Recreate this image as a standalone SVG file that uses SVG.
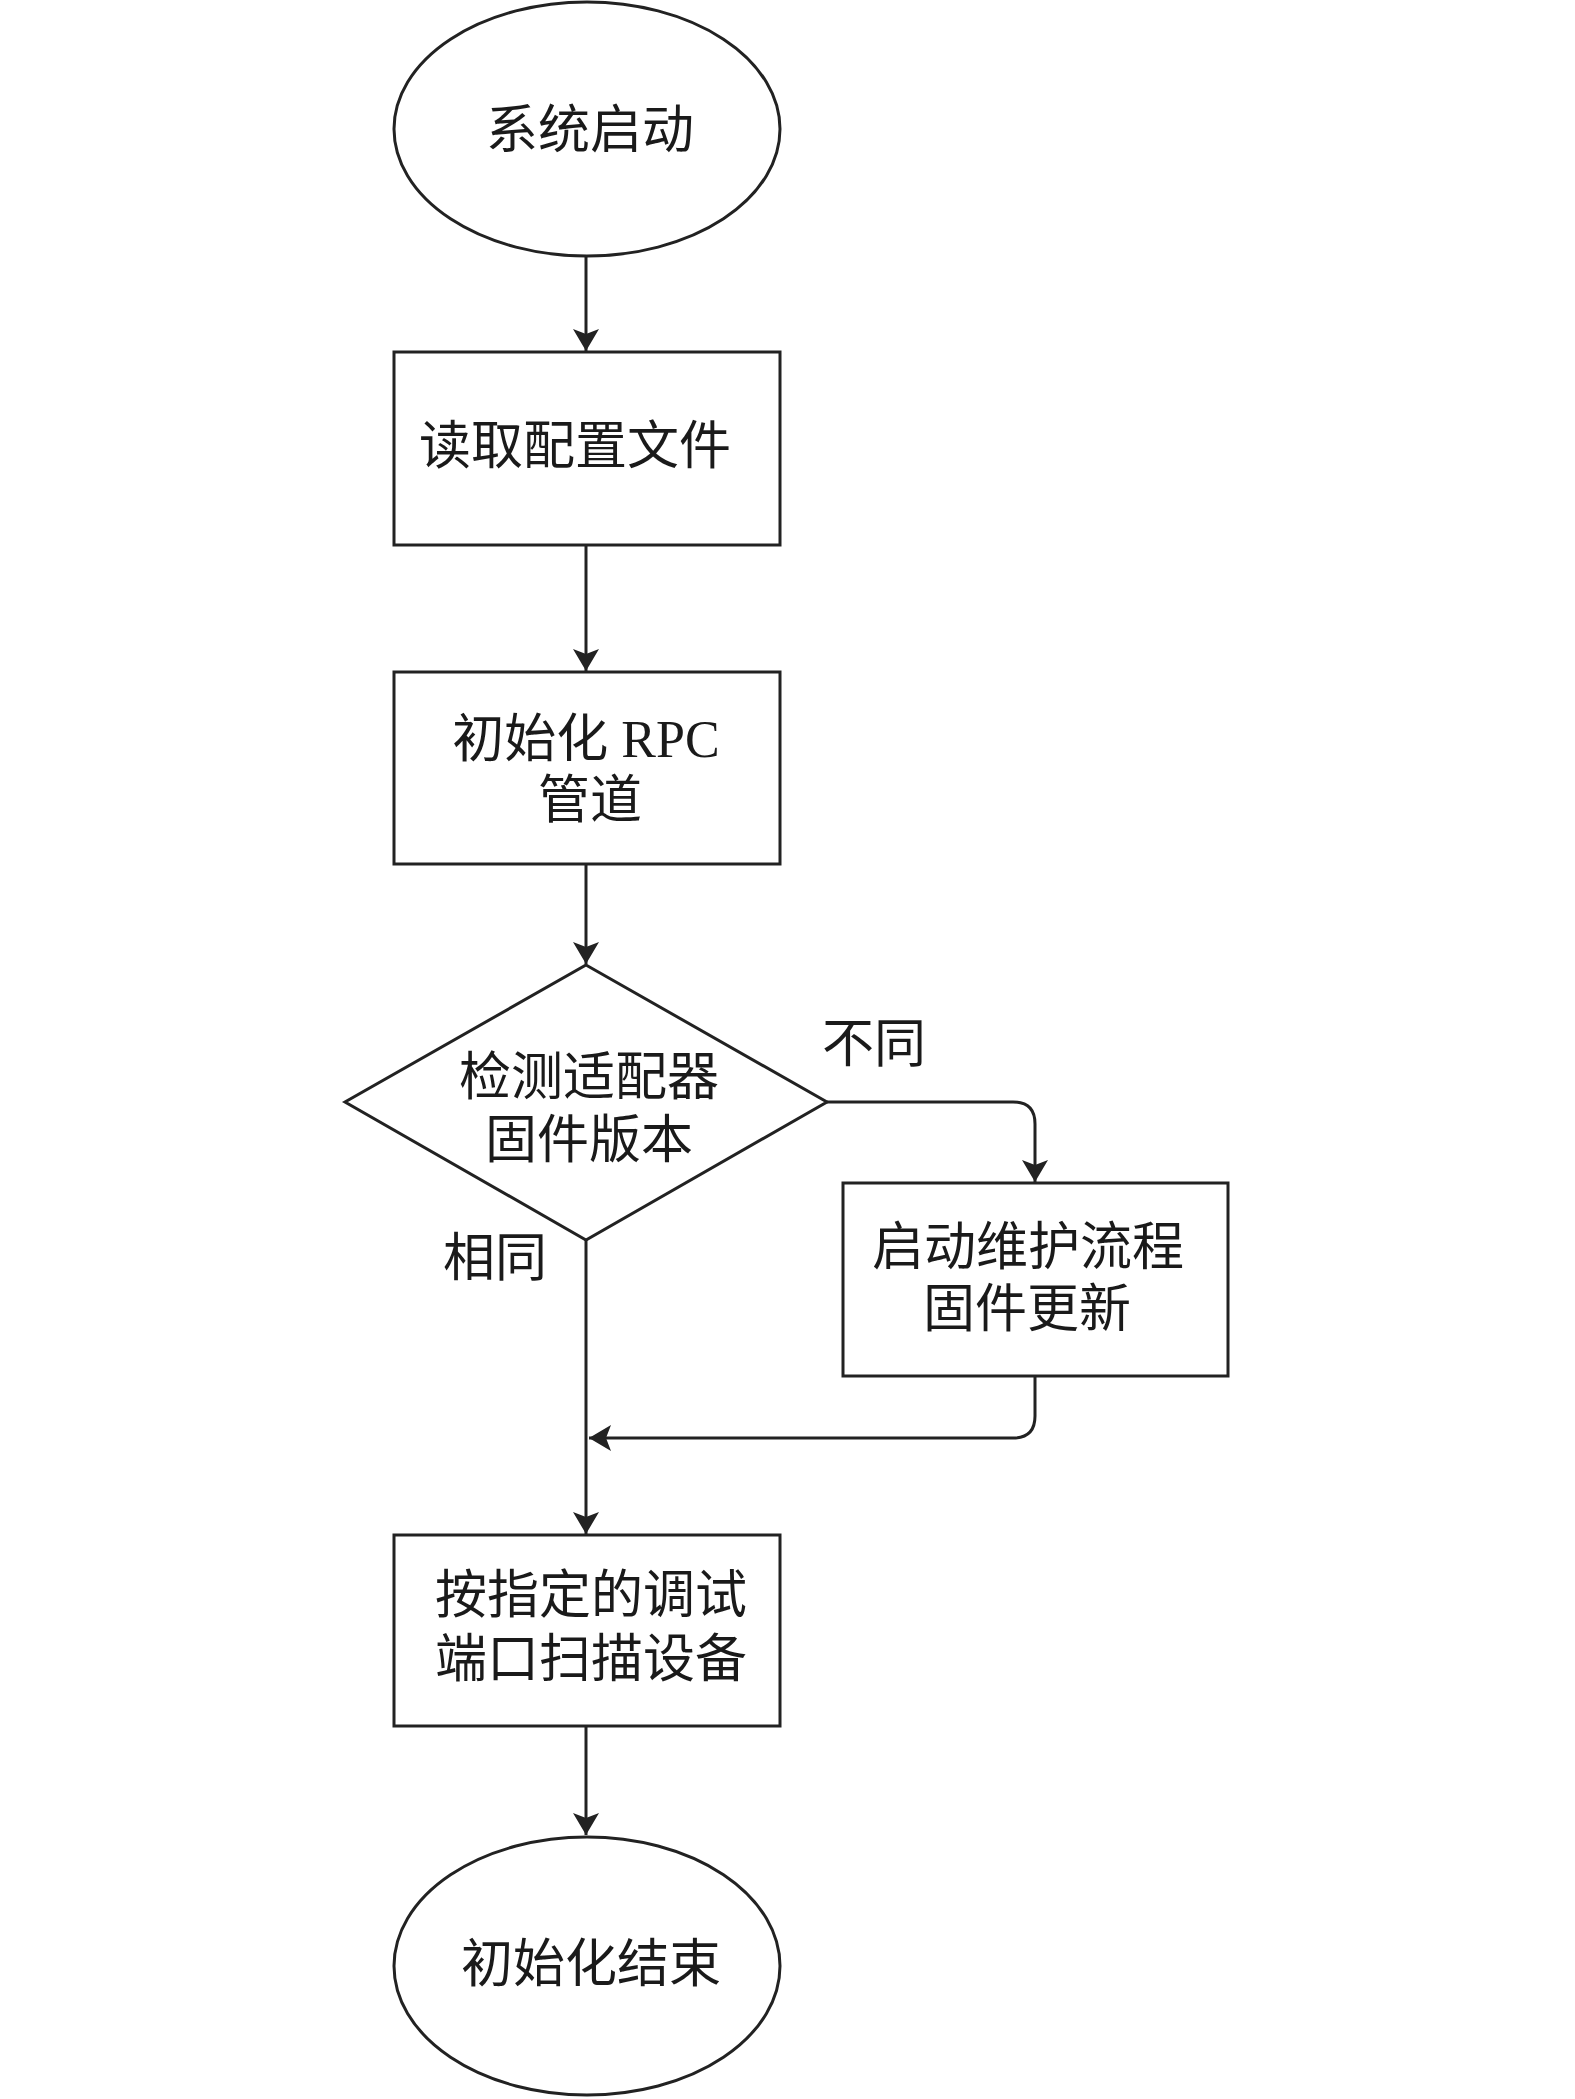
<svg xmlns="http://www.w3.org/2000/svg" width="1575" height="2099" viewBox="0 0 1575 2099">
<style>
.n{fill:#fff;stroke:#222;stroke-width:3}
.c{fill:none;stroke:#222;stroke-width:3}
.t{font-family:"Liberation Serif","Noto Sans CJK SC",serif;font-size:52px;fill:#1a1a1a;text-anchor:middle;dominant-baseline:central}
</style>
<defs>
<marker id="ah" viewBox="0 0 22 26" refX="22" refY="13" markerWidth="22" markerHeight="26" markerUnits="userSpaceOnUse" orient="auto">
<path d="M0,0 L22,13 L0,26 L5,13 Z" fill="#222"/>
</marker>
</defs>
<rect width="1575" height="2099" fill="#fff"/>
<g id="connectors">
<line class="c" x1="586" y1="257" x2="586" y2="351" marker-end="url(#ah)"/>
<line class="c" x1="586" y1="545" x2="586" y2="671" marker-end="url(#ah)"/>
<line class="c" x1="586" y1="864" x2="586" y2="964" marker-end="url(#ah)"/>
<path class="c" d="M827,1102 H1013 Q1035,1102 1035,1124 V1182" marker-end="url(#ah)"/>
<path class="c" d="M1035,1376 V1416 Q1035,1438 1013,1438 H589" marker-end="url(#ah)"/>
<line class="c" x1="586" y1="1240" x2="586" y2="1534" marker-end="url(#ah)"/>
<line class="c" x1="586" y1="1726" x2="586" y2="1835" marker-end="url(#ah)"/>
</g>
<g id="start">
<ellipse class="n" cx="587" cy="129" rx="193" ry="127"/>
<text class="t" x="590" y="130">系统启动</text>
</g>
<g id="read-config">
<rect class="n" x="394" y="352" width="386" height="193"/>
<text class="t" x="575" y="446">读取配置文件</text>
</g>
<g id="init-rpc">
<rect class="n" x="394" y="672" width="386" height="192"/>
<text class="t" x="586" y="739">初始化 RPC</text>
<text class="t" x="590" y="800">管道</text>
</g>
<g id="check-fw">
<polygon class="n" points="586,965 827,1102 586,1240 345,1102"/>
<text class="t" x="589" y="1077">检测适配器</text>
<text class="t" x="589" y="1140">固件版本</text>
</g>
<g id="label-diff">
<text class="t" x="874" y="1044">不同</text>
</g>
<g id="label-same">
<text class="t" x="495" y="1258">相同</text>
</g>
<g id="maintenance">
<rect class="n" x="843" y="1183" width="385" height="193"/>
<text class="t" x="1028" y="1247">启动维护流程</text>
<text class="t" x="1027" y="1309">固件更新</text>
</g>
<g id="scan">
<rect class="n" x="394" y="1535" width="386" height="191"/>
<text class="t" x="591" y="1595">按指定的调试</text>
<text class="t" x="591" y="1659">端口扫描设备</text>
</g>
<g id="end">
<ellipse class="n" cx="587" cy="1966" rx="193" ry="129"/>
<text class="t" x="591" y="1964">初始化结束</text>
</g>
</svg>
